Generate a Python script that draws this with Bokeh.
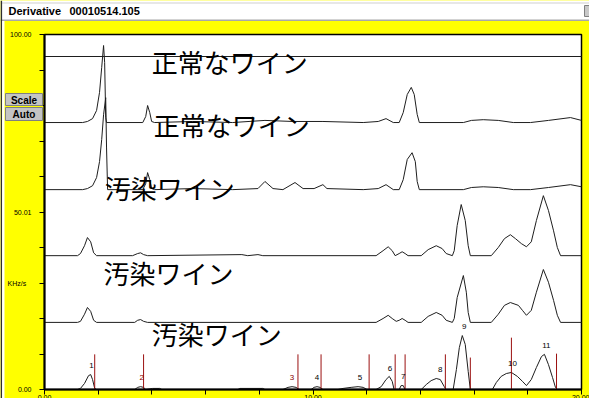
from bokeh.plotting import figure
from bokeh.models import FixedTicker, Label, BoxAnnotation, Range1d, LinearAxis
from bokeh.core.properties import value
from bokeh.embed import file_html
from bokeh.resources import INLINE

# ---------------- data (time in minutes, signal in KHz/s) ----------------
t1_x = [0.0, 20.0]
t1_y = [0.0, 0.0]

t2_x = [0, 1.42, 1.60, 1.79, 1.94, 2.05, 2.13, 2.20, 2.24, 2.28, 2.31, 3.66, 3.77, 3.84, 3.92, 3.99, 4.10,
        5.52, 7.01, 8.21, 9.25, 10.37, 11.87, 12.43, 12.72, 12.99, 13.21, 13.36, 13.51, 13.66, 13.77, 13.88,
        13.96, 15.60, 15.90, 16.34, 16.90, 17.46, 18.10, 18.77, 19.59, 20.00]
t2_y = [0, 0, 0.3, 1.1, 3.4, 8.5, 15.5, 21.7, 16.9, 1.4, 0, 0, 1.7, 4.8, 2.8, 0.3, 0,
        0.3, 0, 0.6, 0.3, 0.3, 0, 0.3, 1.1, 0, 0, 2.8, 7.9, 9.9, 7.9, 2.3,
        0, 0, 0.6, 0.8, 0.6, 0, 0, 0.6, 1.4, 0.6]

t3_x = [0, 1.42, 1.60, 1.79, 1.94, 2.05, 2.13, 2.20, 2.28, 2.31, 2.35, 3.66, 3.77, 3.84, 3.92, 3.99, 4.10,
        5.52, 7.01, 7.95, 8.21, 8.51, 8.88, 9.33, 9.63, 10.04, 10.37, 10.52, 11.87,
        12.43, 12.72, 12.99, 13.21, 13.36, 13.51, 13.69, 13.81, 13.88, 13.96,
        15.60, 15.90, 16.34, 16.90, 17.46, 18.10, 18.77, 19.59, 20.00]
t3_y = [0, 0, 0.3, 1.1, 3.4, 7.9, 14.1, 21.1, 25.9, 12.0, 0, 0, 1.7, 4.8, 2.8, 0.3, 0,
        0.3, 0, 0.3, 2.3, 0.3, 0, 2.0, 0.3, 0.3, 1.4, 0.3, 0,
        0.3, 1.4, 0, 0, 2.8, 8.5, 10.4, 7.9, 2.3, 0,
        0, 0.6, 0.8, 0.6, 0, 0, 0.6, 1.4, 0.8]

t4_x = [0, 1.23, 1.34, 1.49, 1.60, 1.72, 1.83, 1.94, 3.28, 3.47, 3.58, 3.69, 3.84, 7.35, 7.57, 7.95, 8.13,
        12.35, 12.61, 12.80, 12.95, 13.06, 13.21, 13.32, 13.43, 13.54, 14.03, 14.29, 14.59, 14.81, 14.96, 15.19,
        15.26, 15.37, 15.52, 15.67, 15.78, 15.86, 16.64, 16.90, 17.13, 17.35, 17.54, 17.76, 17.95, 18.13,
        18.32, 18.58, 18.77, 18.96, 19.10, 19.22, 20.00]
t4_y = [0, 0, 0.6, 2.8, 5.1, 3.9, 0.8, 0, 0, 0.6, 0.8, 0.3, 0, 0.3, 0, 0.3, 0,
        0, 1.4, 2.5, 1.4, 0, 0.6, 1.1, 0.6, 0, 0, 1.7, 2.8, 2.0, 0.6, 0,
        1.4, 8.5, 14.4, 9.9, 2.8, 0, 0, 2.3, 4.8, 5.9, 4.8, 3.4, 2.5, 3.9,
        9.9, 16.9, 12.7, 7.0, 2.3, 0, 0]

t5_x = [0, 1.23, 1.34, 1.49, 1.60, 1.72, 1.83, 1.94, 3.36, 3.47, 3.58, 3.69, 3.84,
        12.35, 12.61, 12.80, 12.95, 13.10, 13.21, 13.32, 13.43, 13.54, 14.03, 14.29, 14.59, 14.81, 14.96, 15.19,
        15.26, 15.37, 15.60, 15.71, 15.78, 15.86, 16.64, 16.90, 17.13, 17.35, 17.65, 17.80, 17.95, 18.13,
        18.32, 18.58, 18.77, 18.96, 19.10, 19.22, 20.00]
t5_y = [0, 0, 0.3, 2.3, 4.2, 3.1, 0.6, 0, 0, 0.6, 0.8, 0.3, 0,
        0, 1.1, 2.0, 1.1, 0.3, 0.6, 1.1, 0.6, 0, 0, 1.7, 2.8, 2.0, 0.6, 0,
        1.1, 7.0, 13.2, 8.5, 2.8, 0, 0, 2.3, 4.8, 5.6, 4.8, 3.4, 2.0, 3.4,
        8.5, 14.9, 11.3, 6.2, 2.0, 0, 0]

t6_x = [0, 1.23, 1.34, 1.49, 1.64, 1.72, 1.79, 1.87, 1.94, 3.36, 3.47, 3.58, 3.69, 3.77, 4.03, 4.29, 4.37,
        7.20, 7.28, 8.13, 8.21, 8.88, 9.07, 9.22, 9.37, 9.48, 9.93, 10.04, 10.15, 10.26, 10.37,
        10.93, 11.12, 11.42, 11.68, 11.87, 12.01, 12.35, 12.54, 12.72, 12.84, 12.95, 13.02,
        13.21, 13.28, 13.36, 13.43, 14.03, 14.22, 14.40, 14.59, 14.74, 14.89, 14.96,
        15.22, 15.34, 15.45, 15.56, 15.67, 15.78, 15.86, 16.68, 16.83, 17.01, 17.20, 17.39, 17.61,
        17.80, 17.95, 18.13, 18.32, 18.51, 18.62, 18.77, 18.92, 19.03, 19.10, 20.00]
t6_y = [0, 0, 0.3, 1.7, 3.9, 4.2, 2.8, 0.3, 0, 0, 0.6, 0.8, 0.6, 0, 0.3, 0.3, 0,
        0, 0.3, 0.3, 0, 0, 0.6, 0.8, 0.6, 0, 0, 0.6, 0.8, 0.6, 0,
        0, 0.3, 0.6, 0.8, 0.6, 0, 0, 0.8, 2.8, 3.7, 2.3, 0,
        0, 1.1, 1.1, 0, 0, 1.4, 2.5, 3.1, 2.8, 0.8, 0,
        0, 5.6, 11.8, 15.2, 12.7, 5.1, 0, 0, 2.0, 3.7, 4.5, 4.8, 3.7,
        2.3, 1.1, 2.8, 6.2, 9.3, 9.9, 7.0, 3.4, 0.6, 0, 0]

trace_offsets = [93.8, 75.2, 56.3, 37.7, 18.9, 0.0]

peak_numbers = ["1", "2", "3", "4", "5", "6", "7", "8", "9", "10", "11"]
peak_label_x = [1.75, 3.62, 9.22, 10.15, 11.75, 12.87, 13.36, 14.74, 15.63, 17.43, 18.69]
peak_label_y = [6.8, 3.4, 3.4, 3.4, 3.4, 5.9, 3.7, 5.6, 17.7, 7.3, 12.4]
peak_label_colors = ["#000000", "#8B0000", "#8B0000", "#000000", "#000000", "#000000",
                     "#000000", "#000000", "#000000", "#000000", "#000000"]
marker_x = [1.87, 3.69, 9.44, 10.30, 12.09, 13.06, 13.43, 14.93, 15.86, 17.39, 19.07]
marker_top = [9.9, 9.9, 9.9, 9.9, 9.9, 9.9, 9.9, 9.9, 9.0, 14.6, 10.1]

wine_labels = ["正常なワイン", "正常なワイン", "汚染ワイン", "汚染ワイン", "汚染ワイン"]
wine_label_x = [3.99, 4.07, 2.24, 2.20, 3.99]
wine_label_y = [92.4, 74.6, 56.9, 33.0, 15.8]

x_ticks = [0, 2, 4, 6, 8, 10, 12, 14, 16, 18, 20]
x_tick_labels = {0: "0.00", 10: "10.00", 20: "20.00"}
y_ticks = [0, 10, 20, 30, 40, 50, 60, 70, 80, 90, 100]
y_tick_labels = {0: "0.00", 50: "50.01", 100: "100.00"}

title_name = "Derivative"
title_file = "00010514.105"
y_unit = "KHz/s"

# ---------------- geometry (canvas pixels) ----------------
W, H = 589, 398
PL, PR, PT, PB = 44, 581, 34, 389          # plot area edges inside the canvas
X0, X1, Y0, Y1 = 0.0, 20.0, 0.0, 100.0     # plot area data extents
sx = (PR - PL) / (X1 - X0)
sy = (PB - PT) / (Y1 - Y0)

p = figure(width=W, height=H,
           x_range=Range1d(X0 - PL / sx, X1 + (W - PR) / sx),
           y_range=Range1d(Y0 - (H - PB) / sy, Y1 + PT / sy),
           output_backend="svg", toolbar_location=None, title=None,
           x_axis_location=None, y_axis_location=None,
           min_border=0, min_border_left=0, min_border_right=0, min_border_top=0, min_border_bottom=0)
p.border_fill_color = "#FFFF00"
p.background_fill_color = "#FFFF00"
p.outline_line_color = None
p.grid.visible = False

UI_FONT = "Liberation Sans"

# white plot area with frame lines
p.add_layout(BoxAnnotation(left=X0, right=X1, bottom=Y0, top=Y1, fill_color="white", fill_alpha=1,
                           line_color="black", line_width=1.5, line_alpha=1, level="underlay"))

xaxis = LinearAxis(fixed_location=Y0, bounds=(X0, X1), ticker=FixedTicker(ticks=x_ticks),
                   major_label_overrides={t: x_tick_labels.get(t, "") for t in x_ticks},
                   major_label_standoff=0)
yaxis = LinearAxis(fixed_location=X0, bounds=(Y0, Y1), ticker=FixedTicker(ticks=y_ticks),
                   major_label_overrides={t: y_tick_labels.get(t, "") for t in y_ticks},
                   major_label_standoff=8)
for ax in (xaxis, yaxis):
    ax.axis_line_width = 2
    ax.axis_line_color = "black"
    ax.major_tick_out = 5
    ax.major_tick_in = 0
    ax.major_tick_line_color = "black"
    ax.minor_tick_line_color = None
    ax.major_label_text_color = "black"
    ax.major_label_text_font = UI_FONT
    ax.major_label_text_font_size = "7px"
p.add_layout(xaxis, "below")
p.add_layout(yaxis, "left")

# traces
traces = [(t1_x, t1_y), (t2_x, t2_y), (t3_x, t3_y), (t4_x, t4_y), (t5_x, t5_y), (t6_x, t6_y)]
for (xs, ys), off in zip(traces, trace_offsets):
    p.line(xs, [v + off for v in ys], line_color="#1e1e1e", line_width=1)

# peak markers
p.segment(x0=marker_x, y0=[0] * len(marker_x), x1=marker_x, y1=marker_top,
          line_color="#9B1010", line_width=1)
p.text(x=peak_label_x, y=peak_label_y, text=peak_numbers, text_color=peak_label_colors,
       text_font=value(UI_FONT), text_font_size="8px", text_align="center",
       text_baseline="middle")

# wine labels
p.text(x=wine_label_x, y=wine_label_y, text=wine_labels, text_font=value("Noto Sans CJK JP"),
       text_font_size="26px", text_align="left", text_baseline="middle", text_color="black")


# ---------------- window chrome (canvas pixel coords, y from top) -------------
def cbox(x0, y0, x1, y1, fill, line=None):
    p.add_layout(BoxAnnotation(left=x0, right=x1, top=H - y0, bottom=H - y1,
                               left_units="screen", right_units="screen", top_units="screen",
                               bottom_units="screen", fill_color=fill, fill_alpha=1.0,
                               line_color=line, line_alpha=1.0 if line else 0.0, line_width=1))


def clabel(x, y, text, size, bold=False, align="left", color="black"):
    p.add_layout(Label(x=x, y=H - y, x_units="screen", y_units="screen", text=text,
                       text_font=UI_FONT, text_font_size=size,
                       text_font_style="bold" if bold else "normal",
                       text_align=align, text_baseline="middle", text_color=color))


cbox(0, 0, W, 20, "white")
cbox(0, 2, W, 3, "#D0D0D0")
cbox(0, 19, W, 20.5, "#A8A8A8")
cbox(0, 0, 1.6, H, "#303030")
cbox(1.6, 20.5, 4, H, "white")
cbox(584, 5, W + 5, 16, "#C8C8C8", "#808080")
clabel(8, 10.5, title_name, "11px", bold=True)
clabel(69, 10.5, title_file, "11px", bold=True)
cbox(5, 93, 42, 105, "#C4C4C4", "#808080")
cbox(5, 107, 42, 120, "#C4C4C4", "#808080")
clabel(23.5, 99.5, "Scale", "10px", bold=True, align="center")
clabel(23.5, 114, "Auto", "10px", bold=True, align="center")
clabel(7, 283, y_unit, "7px")

open("out.html", "w").write(file_html(p, INLINE))
